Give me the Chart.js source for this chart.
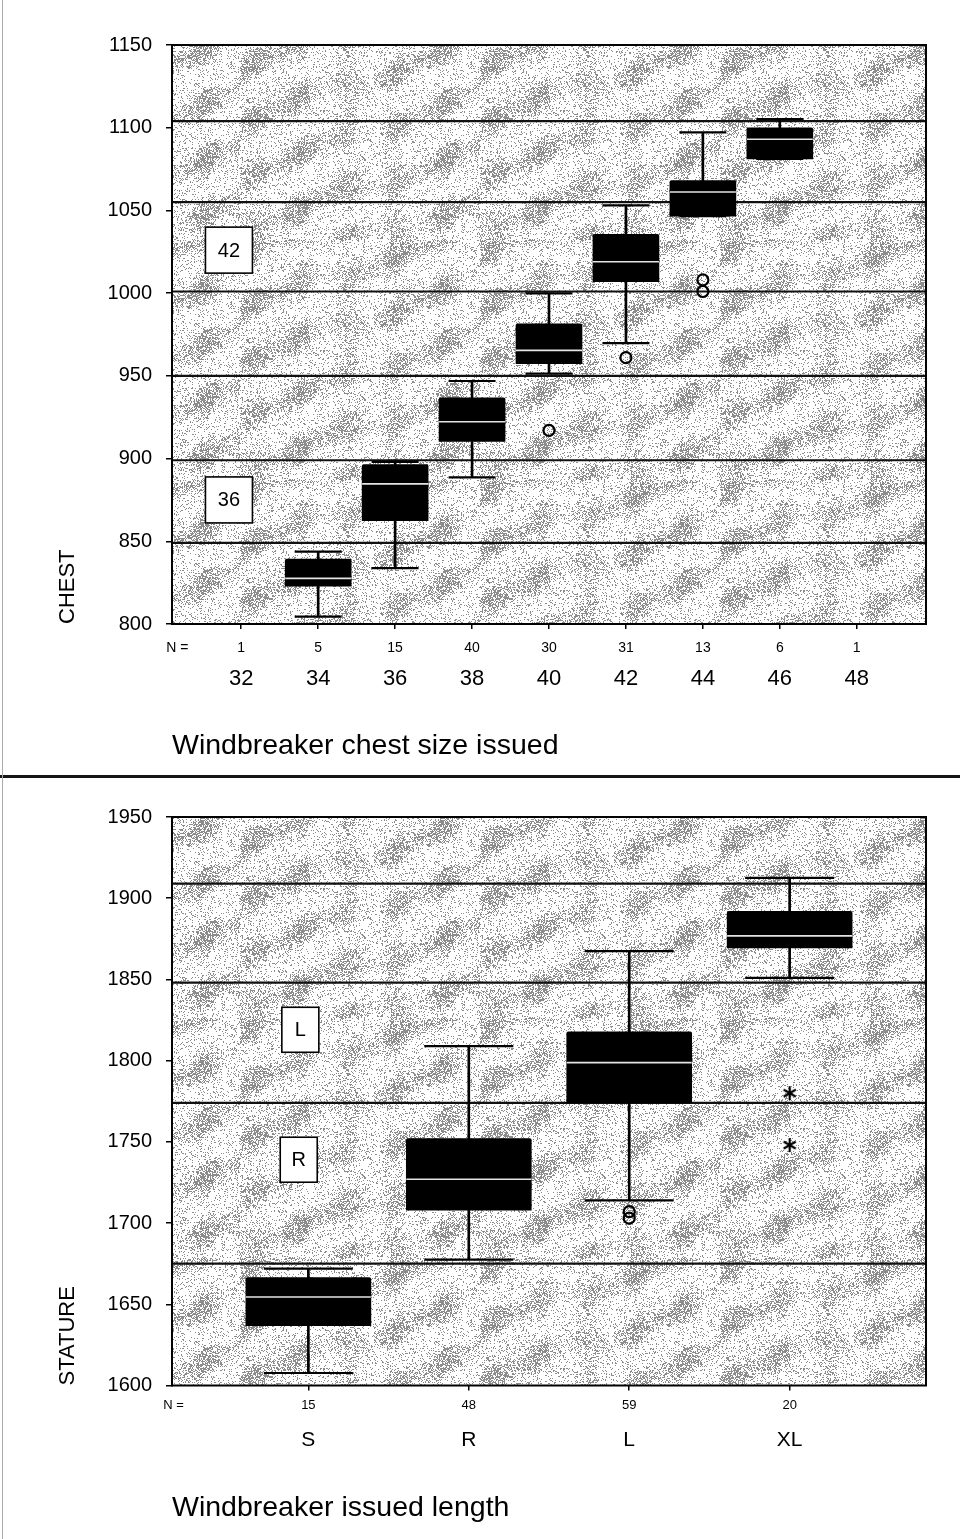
<!DOCTYPE html>
<html><head><meta charset="utf-8">
<script src="https://cdn.jsdelivr.net/npm/chart.js@4.4.1/dist/chart.umd.min.js"></script>
<style>
html,body{margin:0;padding:0;background:#fff;}
#wrap{position:relative;width:960px;height:1539px;overflow:hidden;background:#fff;}
#c1{position:absolute;left:0;top:0;}
#c2{position:absolute;left:0;top:778px;}
#sep{position:absolute;left:0;top:775px;width:960px;height:3px;background:#151515;}
#edge{position:absolute;left:2px;top:0;width:1px;height:1539px;background:#aaa;}
</style></head><body>
<div id="wrap">
<canvas id="c1" width="960" height="775"></canvas>
<div id="sep"></div>
<canvas id="c2" width="960" height="761"></canvas>
<div id="edge"></div>
</div>
<script>
// ---------- data: top panel (chest) ----------
const chestSizes   = ['32','34','36','38','40','42','44','46','48'];
const chestN       = [1, 5, 15, 40, 30, 31, 13, 6, 1];
const chestMin     = [null, 804.5, 833.8, 888.6, 951.4, 969.8, 1046.5, 1081.2, null];
const chestQ1      = [null, 822.8, 862.4, 910.3, 957.4, 1007.0, 1046.5, 1081.2, null];
const chestMedian  = [null, 827.6, 884.7, 922.3, 965.4, 1019.0, 1061.1, 1093.0, null];
const chestQ3      = [null, 839.2, 896.3, 936.7, 981.4, 1035.5, 1068.0, 1100.0, null];
const chestMax     = [null, 843.8, 898.0, 946.9, 999.8, 1053.0, 1097.2, 1105.2, null];
const chestOutlierCat = ['40', '42', '44', '44'];
const chestOutlierVal = [917, 961, 1008, 1001];
const chestBands   = [1104, 1055, 1001, 950, 899, 849];
const chestBoxText = ['42', '36'];
const chestBoxAtX  = [-0.16, -0.16];
const chestBoxAtY  = [1026, 875];
const chestTicksY  = [800, 850, 900, 950, 1000, 1050, 1100, 1150];

// ---------- data: bottom panel (stature) ----------
const lengthSizes  = ['S','R','L','XL'];
const lengthN      = [15, 48, 59, 20];
const statMin      = [1607.7, 1677.5, 1714.0, 1851.0];
const statQ1       = [1636.9, 1707.9, 1774.0, 1869.4];
const statMedian   = [1654.5, 1727.0, 1798.8, 1876.8];
const statQ3       = [1666.4, 1752.0, 1817.7, 1892.0];
const statMax      = [1672.0, 1808.9, 1867.4, 1912.5];
const statOutlierCat = ['L', 'L'];
const statOutlierVal = [1707, 1703];
const statExtremeCat = ['XL', 'XL'];
const statExtremeVal = [1780, 1748];
const statBands    = [1909, 1848, 1774, 1675];
const statBoxText  = ['L', 'R'];
const statBoxAtX   = [-0.05, -0.06];
const statBoxAtY   = [1819, 1739];
const statTicksY   = [1600, 1650, 1700, 1750, 1800, 1850, 1900, 1950];

// ---------- styling helpers ----------
const FONT = "'Liberation Sans', Arial, Helvetica, sans-serif";
Chart.defaults.font.family = FONT;
Chart.defaults.color = '#000';

function makeTexture() {
  const S = 240;
  const c = document.createElement('canvas'); c.width = S; c.height = S;
  const g = c.getContext('2d');
  const img = g.createImageData(S, S);
  for (let y = 0; y < S; y++) {
    for (let x = 0; x < S; x++) {
      const b1 = Math.sin((2 * x + y) * Math.PI / 60);
      const b2 = Math.cos((x - 2 * y) * Math.PI / 120);
      const b3 = Math.sin((x + 3 * y) * Math.PI / 80);
      const band = Math.max(0, 0.55 * b1 * b2 + 0.4 * b3 + 0.15);
      const density = 0.14 + 0.5 * band;
      let h = (x * 374761393 + y * 668265263) >>> 0;
      h = ((h ^ (h >>> 13)) * 1274126177) >>> 0;
      h = (h ^ (h >>> 16)) >>> 0;
      const r = (h % 1000) / 1000;
      const k = (y * S + x) * 4;
      const v = r < density ? 140 : 255;
      img.data[k] = v; img.data[k + 1] = v; img.data[k + 2] = v; img.data[k + 3] = 255;
    }
  }
  g.putImageData(img, 0, 0);
  return c;
}
const TEXTURE = makeTexture();

function asteriskStyle() {
  const c = document.createElement('canvas'); c.width = 18; c.height = 18;
  const g = c.getContext('2d');
  g.strokeStyle = '#000'; g.lineWidth = 2.2; g.lineCap = 'butt';
  g.translate(9, 9);
  for (let k = 0; k < 3; k++) {
    const a = Math.PI / 2 + k * Math.PI / 3;
    g.beginPath();
    g.moveTo(Math.cos(a) * 7, Math.sin(a) * 7);
    g.lineTo(-Math.cos(a) * 7, -Math.sin(a) * 7);
    g.stroke();
  }
  return c;
}

const bandsPlugin = {
  id: 'bands',
  beforeDatasetsDraw(chart, args, o) {
    const {ctx, chartArea: a, scales} = chart;
    ctx.save();
    ctx.fillStyle = ctx.createPattern(TEXTURE, 'repeat');
    ctx.fillRect(a.left, a.top, a.right - a.left, a.bottom - a.top);
    ctx.strokeStyle = '#111'; ctx.lineWidth = 2.2;
    o.lines.forEach(v => {
      const y = scales.y.getPixelForValue(v);
      ctx.beginPath(); ctx.moveTo(a.left, y); ctx.lineTo(a.right, y); ctx.stroke();
    });
    ctx.restore();
  },
  afterDatasetsDraw(chart, args, o) {
    const {ctx, chartArea: a, scales} = chart;
    ctx.save();
    ctx.strokeStyle = '#000'; ctx.lineWidth = 2;
    ctx.strokeRect(a.left, a.top, a.right - a.left, a.bottom - a.top);
    o.text.forEach((t, i) => {
      const x = scales.x.getPixelForValue(o.atX[i]);
      const y = scales.y.getPixelForValue(o.atY[i]);
      const w = o.boxW, h = o.boxH;
      ctx.fillStyle = '#fff';
      ctx.fillRect(x - w / 2, y - h / 2, w, h);
      ctx.strokeStyle = '#000'; ctx.lineWidth = 1.6;
      ctx.strokeRect(x - w / 2, y - h / 2, w, h);
      ctx.fillStyle = '#000';
      ctx.font = '20px ' + FONT;
      ctx.textAlign = 'center'; ctx.textBaseline = 'middle';
      ctx.fillText(t, x, y + 1);
    });
    ctx.restore();
  }
};

function pts(arr) {
  return arr.map((v, i) => v == null ? null : {x: i, y: v}).filter(Boolean);
}
function spans(lo, hi) {
  return lo.map((v, i) => v == null ? null : {x: i, y: [lo[i], hi[i]]}).filter(Boolean);
}

function buildChart(id, p) {
  const datasets = [
    {type: 'scatter', data: pts(p.med), pointStyle: 'line', pointRadius: p.boxW / 2,
     borderColor: '#e4e4e4', borderWidth: 1.6, order: 0},
    {type: 'bar', data: spans(p.q1, p.q3), backgroundColor: '#000', barThickness: p.boxW,
     grouped: false, borderRadius: 2, order: 2},
    {type: 'bar', data: spans(p.min, p.q1), backgroundColor: '#000', barThickness: 2,
     grouped: false, order: 3},
    {type: 'bar', data: spans(p.q3, p.max), backgroundColor: '#000', barThickness: 2,
     grouped: false, order: 3},
    {type: 'scatter', data: pts(p.min), pointStyle: 'line', pointRadius: p.capW / 2,
     borderColor: '#000', borderWidth: 2.2, order: 3},
    {type: 'scatter', data: pts(p.max), pointStyle: 'line', pointRadius: p.capW / 2,
     borderColor: '#000', borderWidth: 2.2, order: 3},
    {type: 'scatter', data: p.outCat.map((c, i) => ({x: p.cats.indexOf(c), y: p.outVal[i]})),
     pointStyle: 'circle', pointRadius: 5.5, borderColor: '#000', borderWidth: 2.2,
     backgroundColor: 'rgba(0,0,0,0)', order: 0}
  ];
  if (p.extCat) {
    datasets.push({type: 'scatter', data: p.extCat.map((c, i) => ({x: p.cats.indexOf(c), y: p.extVal[i]})),
      pointStyle: asteriskStyle(), pointRadius: 8, order: 0});
  }
  return new Chart(document.getElementById(id), {
    type: 'bar',
    data: {datasets},
    plugins: [bandsPlugin],
    options: {
      responsive: false, animation: false, devicePixelRatio: 1,
      layout: {autoPadding: false, padding: {left: 0, right: 34, top: p.padTop, bottom: 0}},
      plugins: {
        legend: {display: false}, tooltip: {enabled: false},
        bands: {lines: p.bands, text: p.boxText, atX: p.boxAtX, atY: p.boxAtY, boxW: p.annW, boxH: p.annH}
      },
      scales: {
        y: {
          type: 'linear', position: 'left', min: p.yTicks[0], max: p.yTicks[p.yTicks.length - 1],
          afterBuildTicks(s) { s.ticks = p.yTicks.map(v => ({value: v})); },
          ticks: {font: {size: 20}, padding: 14, color: '#000', callback: v => String(v)},
          grid: {drawOnChartArea: false, drawTicks: true, tickLength: 6, color: '#000', lineWidth: 1.5},
          border: {display: true, color: '#000', width: 2},
          title: {display: true, text: p.yTitle, align: 'start', color: '#000',
                  font: {size: 22}, padding: {top: 54.8, bottom: 0}},
          afterFit(s) { s.width = 172; }
        },
        xN: {
          type: 'linear', position: 'bottom', weight: 0, min: p.xMin, max: p.xMax, offset: false,
          afterBuildTicks(s) { s.ticks = [{value: p.nLabelX}].concat(p.cats.map((c, i) => ({value: i}))); },
          ticks: {autoSkip: false, maxRotation: 0, minRotation: 0, font: {size: p.nFont}, padding: p.nPad,
                  color: '#000', callback: v => v < 0 ? 'N =' : String(p.ns[v])},
          grid: {drawOnChartArea: false, offset: false, drawTicks: true, tickLength: 5, lineWidth: 1.5,
                 color: c => (c.tick && c.tick.value < 0) ? 'rgba(0,0,0,0)' : '#000'},
          border: {display: false},
          afterFit(s) { s.height = p.nH; }
        },
        x: {
          type: 'linear', position: 'bottom', weight: 1, min: p.xMin, max: p.xMax, offset: false,
          afterBuildTicks(s) { s.ticks = p.cats.map((c, i) => ({value: i})); },
          ticks: {autoSkip: false, maxRotation: 0, minRotation: 0, font: {size: p.catFont}, padding: p.catPad,
                  color: '#000', callback: v => p.cats[v]},
          grid: {display: false, drawTicks: false, offset: false},
          border: {display: false},
          title: {display: true, text: p.xTitle, align: 'start', color: '#000',
                  font: {size: 28.5}, padding: {top: 0, bottom: p.titlePad}},
          afterFit(s) { s.height = p.catH; }
        }
      }
    }
  });
}

buildChart('c1', {
  cats: chestSizes, ns: chestN, min: chestMin, q1: chestQ1, med: chestMedian, q3: chestQ3, max: chestMax,
  outCat: chestOutlierCat, outVal: chestOutlierVal, bands: chestBands,
  boxText: chestBoxText, boxAtX: chestBoxAtX, boxAtY: chestBoxAtY, annW: 47, annH: 46,
  yTicks: chestTicksY, yTitle: 'CHEST', xTitle: 'Windbreaker chest size issued',
  xMin: -0.9, xMax: 8.9, nLabelX: -0.83,
  boxW: 66, capW: 47, padTop: 45,
  nFont: 14, nPad: 10.6, nH: 38, catFont: 22, catPad: 3.8, catH: 113, titlePad: 11.9
});

buildChart('c2', {
  cats: lengthSizes, ns: lengthN, min: statMin, q1: statQ1, med: statMedian, q3: statQ3, max: statMax,
  outCat: statOutlierCat, outVal: statOutlierVal, extCat: statExtremeCat, extVal: statExtremeVal,
  bands: statBands,
  boxText: statBoxText, boxAtX: statBoxAtX, boxAtY: statBoxAtY, annW: 37, annH: 45,
  yTicks: statTicksY, yTitle: 'STATURE', xTitle: 'Windbreaker issued length',
  xMin: -0.85, xMax: 3.85, nLabelX: -0.84,
  boxW: 125, capW: 89, padTop: 39,
  nFont: 13, nPad: 6.7, nH: 36, catFont: 21, catPad: 5.9, catH: 117.5, titlePad: 13.9
});
</script>
</body></html>
